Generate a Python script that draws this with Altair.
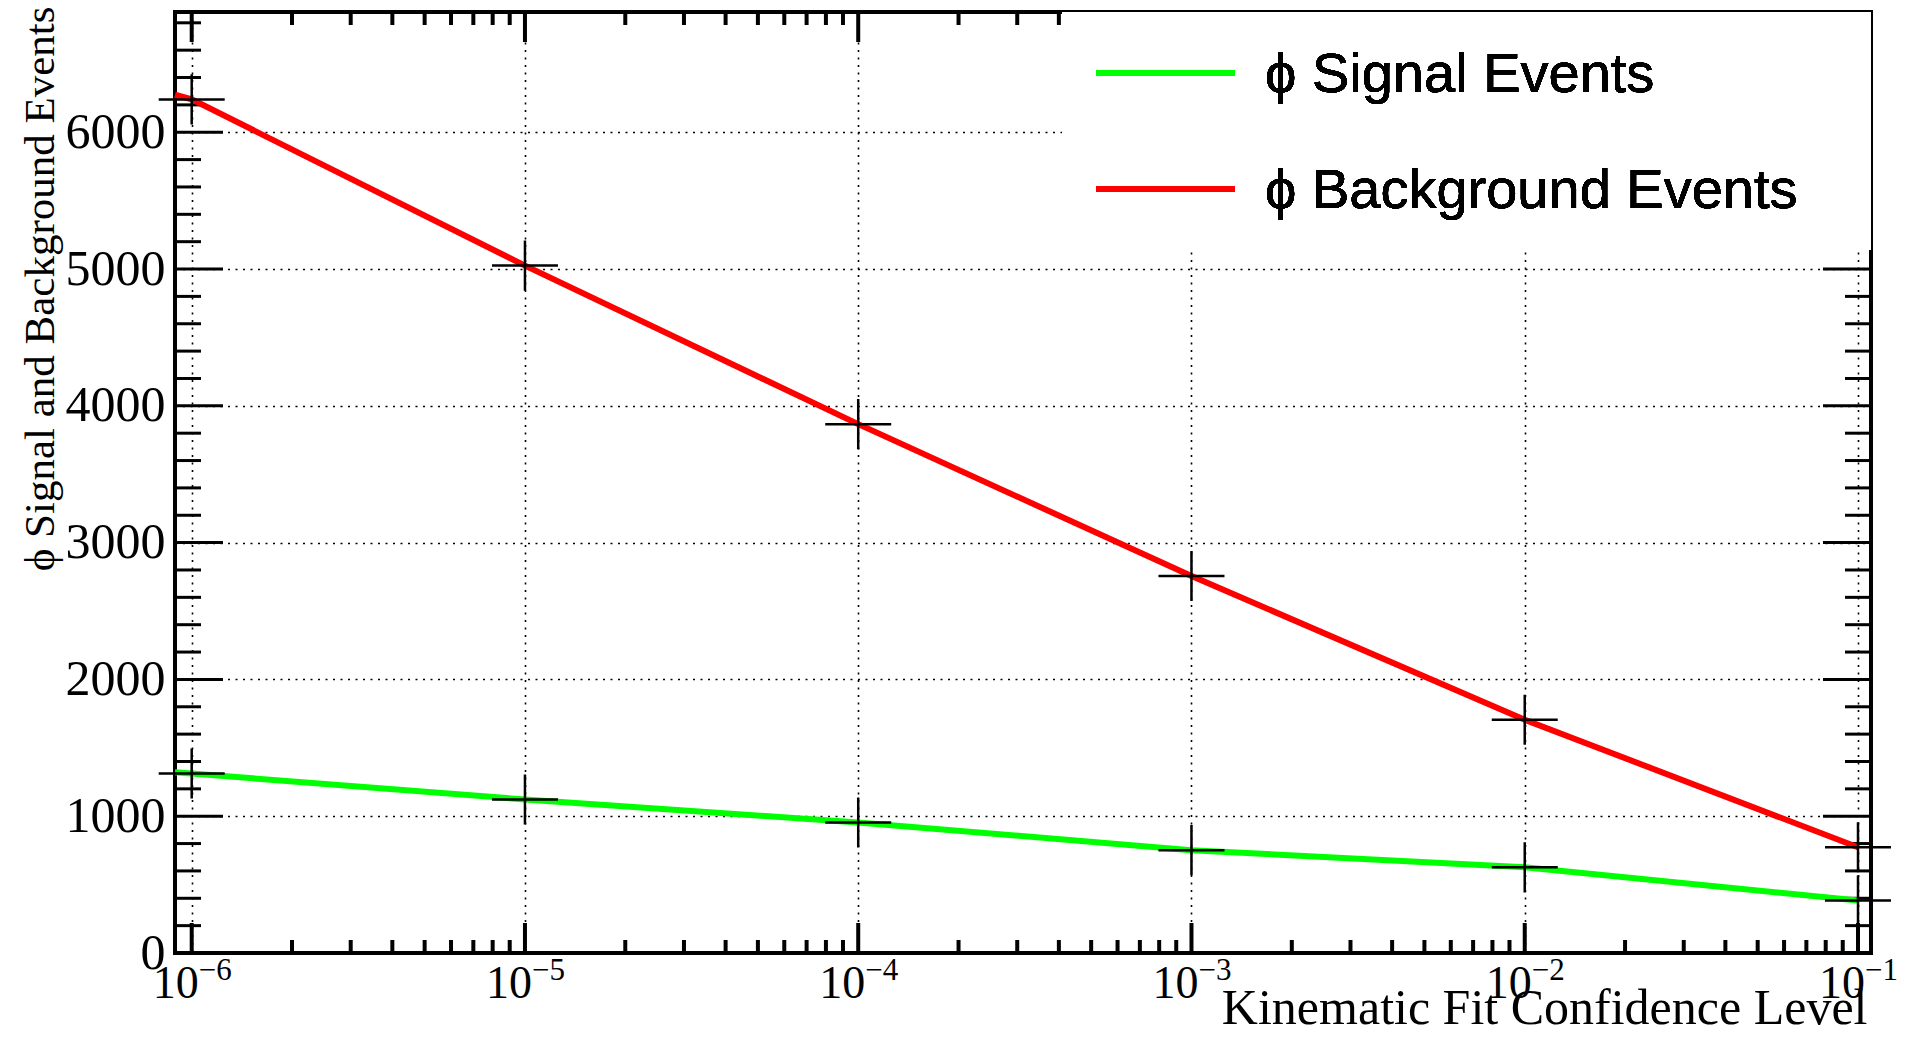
import altair as alt
import pandas as pd

# ---------------- data ----------------
conf_levels = [1e-6, 1e-5, 1e-4, 1e-3, 1e-2, 1e-1]
signal_events = [1312, 1122, 954, 752, 626, 384]
background_events = [6240, 5025, 3866, 2756, 1705, 773]
# the curves continue to the left frame edge
edge_level = 8.91e-7
signal_edge = 1322
background_edge = 6274

series_names = ["ϕ Signal Events", "ϕ Background Events"]
series_colors = ["#00ff00", "#ff0000"]

x_tick_values = [1e-6, 1e-5, 1e-4, 1e-3, 1e-2, 1e-1]
x_tick_base = ["10", "10", "10", "10", "10", "10"]
x_tick_exponents = ["−6", "−5", "−4", "−3", "−2", "−1"]
x_minor_values = [m * d for d in [1e-6, 1e-5, 1e-4, 1e-3, 1e-2] for m in range(2, 10)]
y_tick_values = [0, 1000, 2000, 3000, 4000, 5000, 6000]
y_minor_values = [v for v in range(200, 6900, 200) if v % 1000 != 0]

x_title = "Kinematic Fit Confidence Level"
y_title = "ϕ Signal and Background Events"

# ---------------- layout ----------------
W, H = 1696, 941
x_domain = [8.91e-7, 0.1094]
y_domain = [0, 6879]
SERIF = "Liberation Serif"
SANS = "Liberation Sans"

xs = alt.Scale(type="log", domain=x_domain, nice=False, zero=False)
ys = alt.Scale(type="linear", domain=y_domain, nice=False, zero=False)

x_axis = alt.Axis(
    values=x_tick_values, labels=False, ticks=False, tickSize=0, domain=False,
    grid=True, gridColor="#000", gridDash=[2, 5.5], gridWidth=1.6, gridOpacity=1,
    title=x_title, titleFont=SERIF, titleFontSize=50, titleFontWeight="normal",
    titleColor="#000", titleAlign="right", titleBaseline="alphabetic", titleAngle=0,
    titleX=1692, titleY=70,
)
y_axis = alt.Axis(
    values=y_tick_values, format="d", labelFont=SERIF, labelFontSize=50,
    labelColor="#000", labelPadding=10, labelOverlap=False, labelFlush=False,
    ticks=False, tickSize=0, domain=False,
    grid=True, gridColor="#000", gridDash=[2, 5.5], gridWidth=1.6, gridOpacity=1,
    title=y_title, titleFont=SERIF, titleFontSize=43, titleFontWeight="normal",
    titleColor="#000", titleAngle=270, titleAlign="right", titleBaseline="alphabetic",
    titleX=-122, titleY=-6,
)


def X(field="x"):
    return alt.X(f"{field}:Q", scale=xs, axis=x_axis)


def Y(field="y"):
    return alt.Y(f"{field}:Q", scale=ys, axis=y_axis)


# ---------------- tables ----------------
rows = []
for name, edge, vals in [(series_names[0], signal_edge, signal_events),
                         (series_names[1], background_edge, background_events)]:
    rows.append({"series": name, "x": edge_level, "y": edge})
    for xv, yv in zip(conf_levels, vals):
        rows.append({"series": name, "x": xv, "y": yv})
lines_df = pd.DataFrame(rows)

pts_df = pd.DataFrame(
    [{"series": series_names[0], "x": xv, "y": yv} for xv, yv in zip(conf_levels, signal_events)]
    + [{"series": series_names[1], "x": xv, "y": yv} for xv, yv in zip(conf_levels, background_events)]
)

xmaj = pd.DataFrame({"x": x_tick_values, "base": x_tick_base, "exp": x_tick_exponents})
xmin = pd.DataFrame({"x": x_minor_values})
ymaj = pd.DataFrame({"y": y_tick_values})
ymin = pd.DataFrame({"y": y_minor_values})

# ---------------- layers ----------------
grid_layer = alt.Chart(pts_df).mark_point(opacity=0).encode(x=X(), y=Y())

tick_layers = [
    alt.Chart(xmaj).mark_rule(color="#000", strokeWidth=4).encode(x=X(), y=alt.value(H), y2=alt.value(H - 30)),
    alt.Chart(xmaj).mark_rule(color="#000", strokeWidth=4).encode(x=X(), y=alt.value(0), y2=alt.value(30)),
    alt.Chart(xmin).mark_rule(color="#000", strokeWidth=4).encode(x=X(), y=alt.value(H), y2=alt.value(H - 13)),
    alt.Chart(xmin).mark_rule(color="#000", strokeWidth=4).encode(x=X(), y=alt.value(0), y2=alt.value(13)),
    alt.Chart(ymaj).mark_rule(color="#000", strokeWidth=3).encode(y=Y(), x=alt.value(0), x2=alt.value(48)),
    alt.Chart(ymaj).mark_rule(color="#000", strokeWidth=3).encode(y=Y(), x=alt.value(W - 48), x2=alt.value(W)),
    alt.Chart(ymin).mark_rule(color="#000", strokeWidth=3).encode(y=Y(), x=alt.value(0), x2=alt.value(26)),
    alt.Chart(ymin).mark_rule(color="#000", strokeWidth=3).encode(y=Y(), x=alt.value(W - 26), x2=alt.value(W)),
]

# x tick labels: "10" with a raised exponent
xlabel_layers = [
    alt.Chart(xmaj).mark_text(
        font=SERIF, fontSize=46, color="#000", align="right", baseline="alphabetic", dx=7
    ).encode(x=X(), y=alt.value(H + 45), text="base:N"),
    alt.Chart(xmaj).mark_text(
        font=SERIF, fontSize=31, color="#000", align="left", baseline="alphabetic", dx=7
    ).encode(x=X(), y=alt.value(H + 27), text="exp:N"),
]

line_layer = alt.Chart(lines_df).mark_line(interpolate="linear", strokeWidth=6).encode(
    x=X(), y=Y(),
    color=alt.Color("series:N", scale=alt.Scale(domain=series_names, range=series_colors), legend=None),
)

cross_path = "M-1,0H1M0,-0.76V0.76"
marker_layer = alt.Chart(pts_df).mark_point(
    shape=cross_path, size=4356, filled=False, strokeWidth=2.5, color="#000", opacity=1
).encode(x=X(), y=Y())

legend_box = alt.Chart(pts_df).mark_rect(color="white", opacity=1).encode(
    x=alt.value(887), x2=alt.value(W), y=alt.value(0), y2=alt.value(238)
)
legend_layers = [legend_box]
for i, (name, col) in enumerate(zip(series_names, series_colors)):
    ly = 61 + i * 116
    legend_layers.append(
        alt.Chart(pts_df).mark_rule(color=col, strokeWidth=6).encode(
            x=alt.value(921), x2=alt.value(1060), y=alt.value(ly)
        )
    )
    legend_layers.append(
        alt.Chart(pts_df).mark_text(
            text=name, font=SANS, fontSize=56, color="#000", align="left", baseline="alphabetic"
        ).encode(x=alt.value(1090), y=alt.value(ly + 19))
    )

chart = alt.layer(
    grid_layer, *tick_layers, line_layer, marker_layer, *xlabel_layers, *legend_layers
).properties(
    width=W, height=H,
    padding={"left": 167, "top": 4, "right": 34, "bottom": 81},
    autosize=alt.AutoSizeParams(type="none"),
    background="white",
).configure_view(stroke="#000", strokeWidth=4)

chart.save("out.html", embed_options={"renderer": "svg", "actions": False})
